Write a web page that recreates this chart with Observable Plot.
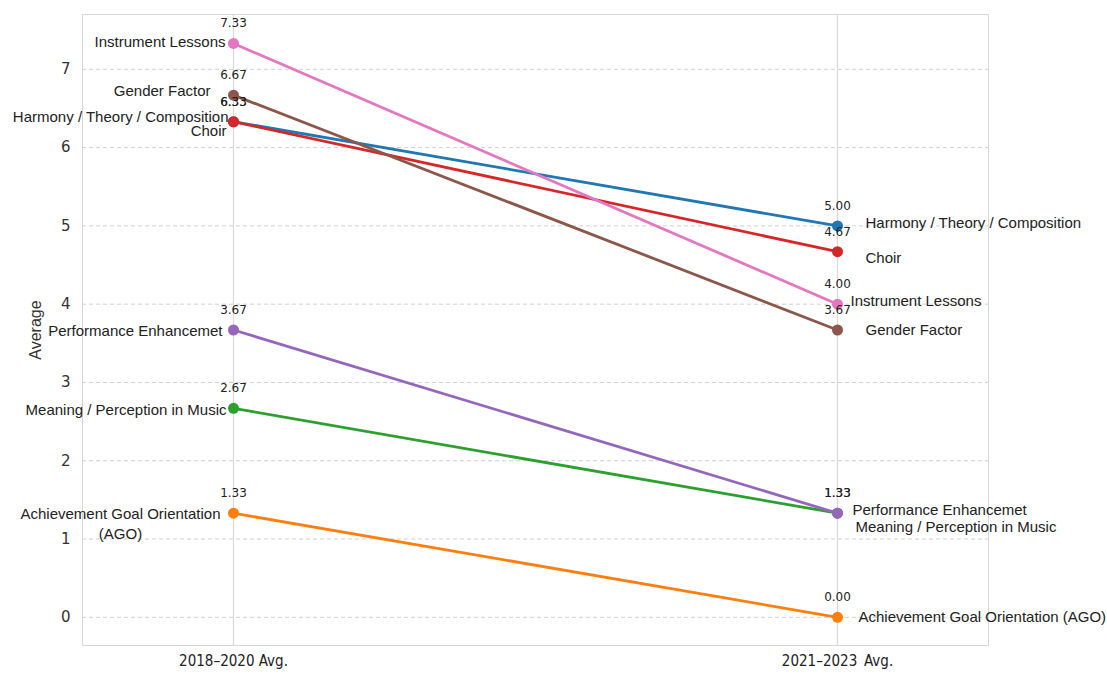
<!DOCTYPE html>
<html><head><meta charset="utf-8">
<script src="https://cdn.jsdelivr.net/npm/d3@7"></script>
<script src="https://cdn.jsdelivr.net/npm/@observablehq/plot@0.6"></script>
<style>
html,body{margin:0;padding:0;background:#fff;}
#chart svg{display:block;}
</style></head><body><div id="chart"></div>
<script>
const categories = ["Harmony / Theory / Composition","Achievement Goal Orientation (AGO)","Meaning / Perception in Music","Choir","Performance Enhancemet","Gender Factor","Instrument Lessons"];
const leftNames = ["Harmony / Theory / Composition","Achievement Goal Orientation\n(AGO)","Meaning / Perception in Music","Choir","Performance Enhancemet","Gender Factor","Instrument Lessons"];
const avg2018_2020 = [6.33, 1.33, 2.67, 6.33, 3.67, 6.67, 7.33];
const avg2021_2023 = [5.00, 0.00, 1.33, 4.67, 1.33, 3.67, 4.00];
const periods = ["2018–2020 Avg.", "2021–2023\u2002Avg."];
const yLabel = "Average";
const colors = ["#1f77b4","#ff7f0e","#2ca02c","#d62728","#9467bd","#8c564b","#e377c2"];
const yTicks = [0,1,2,3,4,5,6,7];
// label layout nudges (pixels)
const leftAnchor = ["end","middle","end","end","end","end","end"];
const leftDx = [-5,-113,-7,-7,-11,-23,-8];
const leftDy = [-6,9,0,8,0,-6,-3];
const rightDx = [28,21,18,28,15,28,13];
const rightDy = [-3,0,14,6,-3,0,-3];

const rows = [];
categories.forEach((c,i) => {
  rows.push({cat:c, i, p:0, v:avg2018_2020[i]});
  rows.push({cat:c, i, p:1, v:avg2021_2023[i]});
});

const labelFont = "'Liberation Sans', Arial, Helvetica, sans-serif";
const nameMarks = [];
categories.forEach((c,i) => {
  nameMarks.push(Plot.text([{p:0, v:avg2018_2020[i], t:leftNames[i]}], {
    x:"p", y:"v", text:"t", textAnchor:leftAnchor[i], dx:leftDx[i], dy:leftDy[i],
    fontSize:15, fontFamily:labelFont, fill:"#222", lineHeight:1.33, ariaLabel:"name-label"
  }));
  nameMarks.push(Plot.text([{p:1, v:avg2021_2023[i], t:c}], {
    x:"p", y:"v", text:"t", textAnchor:"start", dx:rightDx[i], dy:rightDy[i],
    fontSize:15, fontFamily:labelFont, fill:"#222", ariaLabel:"name-label"
  }));
});

const chart = Plot.plot({
  width:1107, height:677,
  marginLeft:82, marginRight:119, marginTop:14, marginBottom:32,
  style:{background:"#fff", fontFamily:"'DejaVu Sans', sans-serif"},
  x:{domain:[-0.25,1.25]},
  y:{domain:[-0.36,7.70]},
  color:{domain:categories, range:colors},
  marks:[
    Plot.gridY(yTicks, {stroke:"#d0d0d0", strokeOpacity:1, strokeDasharray:"4,3"}),
    Plot.gridX([0,1], {stroke:"#dadada", strokeOpacity:1, strokeWidth:1.2}),
    Plot.frame({stroke:"#d8d8d8"}),
    Plot.axisY(yTicks, {tickSize:0, tickPadding:12, tickFormat:d => String(d), fill:"#333", label:null}),
    Plot.axisX([0,1], {tickSize:0, tickPadding:10, tickFormat:i => periods[i], fill:"#222", label:null}),
    Plot.text([yLabel], {text:d => d, frameAnchor:"left", textAnchor:"middle", rotate:-90, dx:-47, fontSize:16, fontFamily:labelFont, fill:"#333"}),
    Plot.line(rows, {x:"p", y:"v", z:"cat", stroke:"cat", strokeWidth:2.8}),
    Plot.dot(rows, {x:"p", y:"v", fill:"cat", r:5.5}),
    Plot.text(rows, {x:"p", y:"v", text:d => d.v.toFixed(2), dy:-20, fontSize:12, fill:"#222"}),
    ...nameMarks
  ]
});
document.getElementById("chart").append(chart);
// white boxes behind name labels
chart.querySelectorAll('g[aria-label="name-label"] text').forEach(t => {
  const b = t.getBBox();
  const r = document.createElementNS("http://www.w3.org/2000/svg","rect");
  r.setAttribute("x", b.x-2); r.setAttribute("y", b.y-1);
  r.setAttribute("width", b.width+4); r.setAttribute("height", b.height+2);
  r.setAttribute("fill", "#fff");
  if (t.getAttribute("transform")) r.setAttribute("transform", t.getAttribute("transform"));
  t.parentNode.insertBefore(r, t);
});
// axis fonts
chart.querySelectorAll('g[aria-label="y-axis tick label"]').forEach(g => { g.setAttribute("font-size", 15); });
chart.querySelectorAll('g[aria-label="x-axis tick label"]').forEach(g => { g.setAttribute("font-size", 15); g.setAttribute("font-family", "'DejaVu Sans Condensed', 'DejaVu Sans', sans-serif"); g.setAttribute("font-stretch", "condensed"); });
</script></body></html>
